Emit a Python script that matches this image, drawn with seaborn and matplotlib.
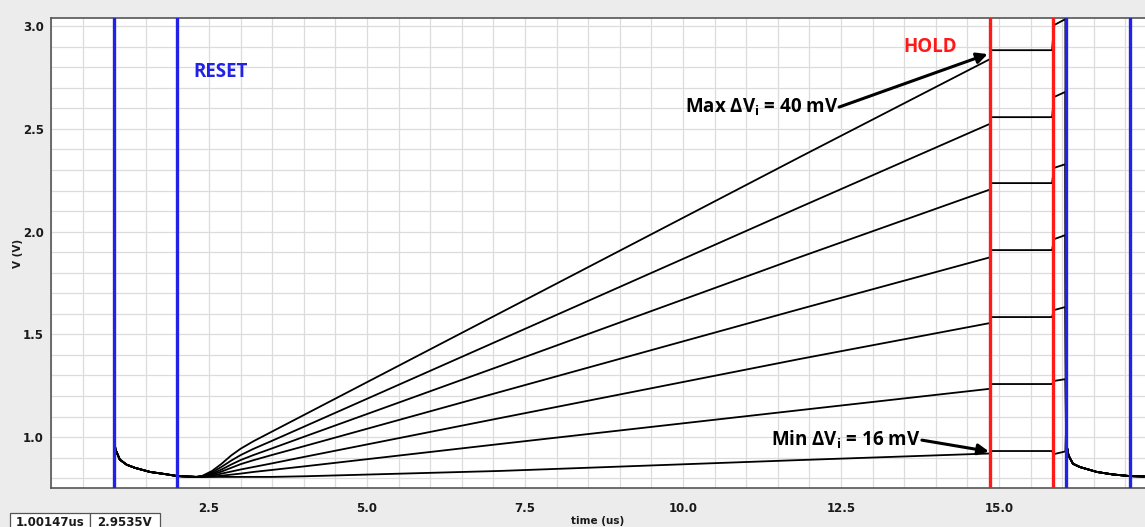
import matplotlib
matplotlib.use("Agg")
import matplotlib.pyplot as plt
import seaborn as sns
import pandas as pd
from matplotlib.patches import Rectangle
from matplotlib.ticker import MultipleLocator

# --- data (time in us, voltage in V) ---
t_reset = [1.0, 1.02, 1.09, 1.2, 1.33, 1.57, 1.8, 2.0, 2.3]
v_reset = [0.99, 0.94, 0.89, 0.865, 0.85, 0.83, 0.82, 0.81, 0.806]

t_ramp = [2.4, 2.55, 2.7, 2.85, 3.0, 3.2, 3.5, 4.0, 7.1, 11.85, 14.86]
ramp_1 = [0.812, 0.835, 0.87, 0.91, 0.943, 0.979, 1.027, 1.107, 1.603, 2.363, 2.84]
ramp_2 = [0.81, 0.828, 0.855, 0.885, 0.912, 0.942, 0.982, 1.05, 1.472, 2.119, 2.525]
ramp_3 = [0.809, 0.822, 0.842, 0.866, 0.888, 0.912, 0.945, 1.001, 1.345, 1.876, 2.205]
ramp_4 = [0.808, 0.817, 0.832, 0.85, 0.868, 0.887, 0.913, 0.955, 1.219, 1.623, 1.875]
ramp_5 = [0.807, 0.812, 0.822, 0.832, 0.842, 0.854, 0.872, 0.903, 1.092, 1.380, 1.555]
ramp_6 = [0.806, 0.808, 0.812, 0.817, 0.822, 0.83, 0.84, 0.857, 0.966, 1.131, 1.235]
ramp_7 = [0.806, 0.806, 0.806, 0.806, 0.806, 0.806, 0.806, 0.809, 0.835, 0.888, 0.92]
ramps = [ramp_1, ramp_2, ramp_3, ramp_4, ramp_5, ramp_6, ramp_7]

t_hold = [14.87, 15.84]
hold_v = [2.883, 2.557, 2.236, 1.91, 1.584, 1.258, 0.932]

t_post = [15.87, 16.05]
post_a = [3.005, 2.655, 2.31, 1.963, 1.618, 1.273, 0.917]
post_b = [3.034, 2.68, 2.328, 1.983, 1.633, 1.282, 0.93]

t_decay = [16.06, 16.07, 16.1, 16.17, 16.28, 16.55, 16.8, 17.07, 17.3]
v_decay = [1.03, 0.96, 0.91, 0.87, 0.854, 0.83, 0.818, 0.81, 0.808]

reset_marks = [1.0, 2.0, 16.06, 17.07]
hold_marks = [14.86, 15.85]

x_ticks = [2.5, 5.0, 7.5, 10.0, 12.5, 15.0]
y_ticks = [1.0, 1.5, 2.0, 2.5, 3.0]

# --- long-form table ---
rows = []
for i, ramp in enumerate(ramps):
    tt = t_reset + t_ramp + t_hold + t_post + t_decay
    vv = v_reset + ramp + [hold_v[i]] * 2 + [post_a[i], post_b[i]] + v_decay
    for t, v in zip(tt, vv):
        rows.append({"time": t, "V": v, "curve": i})
df = pd.DataFrame(rows)

sns.set_style("white")
plt.rcParams["font.family"] = ["DejaVu Sans"]

bg = "#ececec"
W, H = 1145, 527
fig = plt.figure(figsize=(W / 100, H / 100), dpi=100, facecolor=bg)
ax = fig.add_axes([0.0445, 0.074, 0.9555, 0.892])
ax.set_facecolor("white")

sns.lineplot(data=df, x="time", y="V", units="curve", estimator=None,
             sort=False, color="black", lw=1.3, ax=ax, legend=False, zorder=3)

for x in reset_marks:
    ax.axvline(x, color="#2222e6", lw=2.4, zorder=4)
for x in hold_marks:
    ax.axvline(x, color="#ff1a1a", lw=2.4, zorder=4)

ax.set_xlim(0, 17.31)
ax.set_ylim(0.752, 3.04)
ax.set_xticks(x_ticks)
ax.set_yticks(y_ticks)
ax.xaxis.set_minor_locator(MultipleLocator(0.5))
ax.yaxis.set_minor_locator(MultipleLocator(0.1))
ax.grid(which="both", color="#dcdcdc", lw=0.9, zorder=0)
ax.set_axisbelow(True)
ax.tick_params(which="major", length=4, width=0.8, color="#555555",
               labelsize=8.5, pad=1)
ax.tick_params(which="minor", length=3, width=0.8, color="#555555")
ax.tick_params(axis="x", pad=6)
for lab in ax.get_xticklabels() + ax.get_yticklabels():
    lab.set_fontweight("bold")
    lab.set_color("#1a1a1a")

for s in ["left", "bottom", "top"]:
    ax.spines[s].set_visible(True)
    ax.spines[s].set_color("#555555")
    ax.spines[s].set_linewidth(1.2)
ax.spines["right"].set_visible(False)

ax.set_xlabel("time (us)", fontsize=7.5, fontweight="bold", labelpad=1,
              color="#1a1a1a")
ax.set_ylabel("V (V)", fontsize=7.5, fontweight="bold", labelpad=0,
              color="#1a1a1a")

fam = ["Open Sans", "DejaVu Sans"]
fs = 13.5
ax.text(2.25, 2.776, "RESET", color="#2222e6", fontsize=fs,
        fontweight="bold", family=fam, va="center", ha="left", zorder=5)
ax.text(13.48, 2.90, "HOLD", color="#ff1a1a", fontsize=fs,
        fontweight="bold", family=fam, va="center", ha="left", zorder=5)
ax.text(12.45, 2.606, "Max ΔV$_\\mathregular{i}$ = 40 mV", fontsize=fs,
        color="black", fontweight="bold", family=fam, va="center",
        ha="right", zorder=5)
ax.text(13.75, 0.985, "Min ΔV$_\\mathregular{i}$ = 16 mV", fontsize=fs,
        color="black", fontweight="bold", family=fam, va="center",
        ha="right", zorder=5)

arrow = dict(arrowstyle="-|>", color="black", lw=2.2, mutation_scale=16,
             shrinkA=0, shrinkB=0)
ax.annotate("", xy=(14.82, 2.864), xytext=(12.47, 2.606),
            arrowprops=arrow, zorder=6)
ax.annotate("", xy=(14.84, 0.93), xytext=(13.78, 0.985),
            arrowprops=arrow, zorder=6)

# cursor readout boxes at the bottom left
for x0, x1, label in [(10, 90, "1.00147us"), (90, 160, "2.9535V")]:
    fig.add_artist(Rectangle((x0 / W, -0.01), (x1 - x0) / W, 0.037,
                             transform=fig.transFigure, facecolor="white",
                             edgecolor="#555555", lw=0.9))
    fig.text((x0 + x1) / 2 / W, 0.009, label, fontsize=8.5, fontweight="bold",
             va="center", ha="center", color="#1a1a1a")

fig.savefig("out.png", dpi=100, facecolor=bg)
